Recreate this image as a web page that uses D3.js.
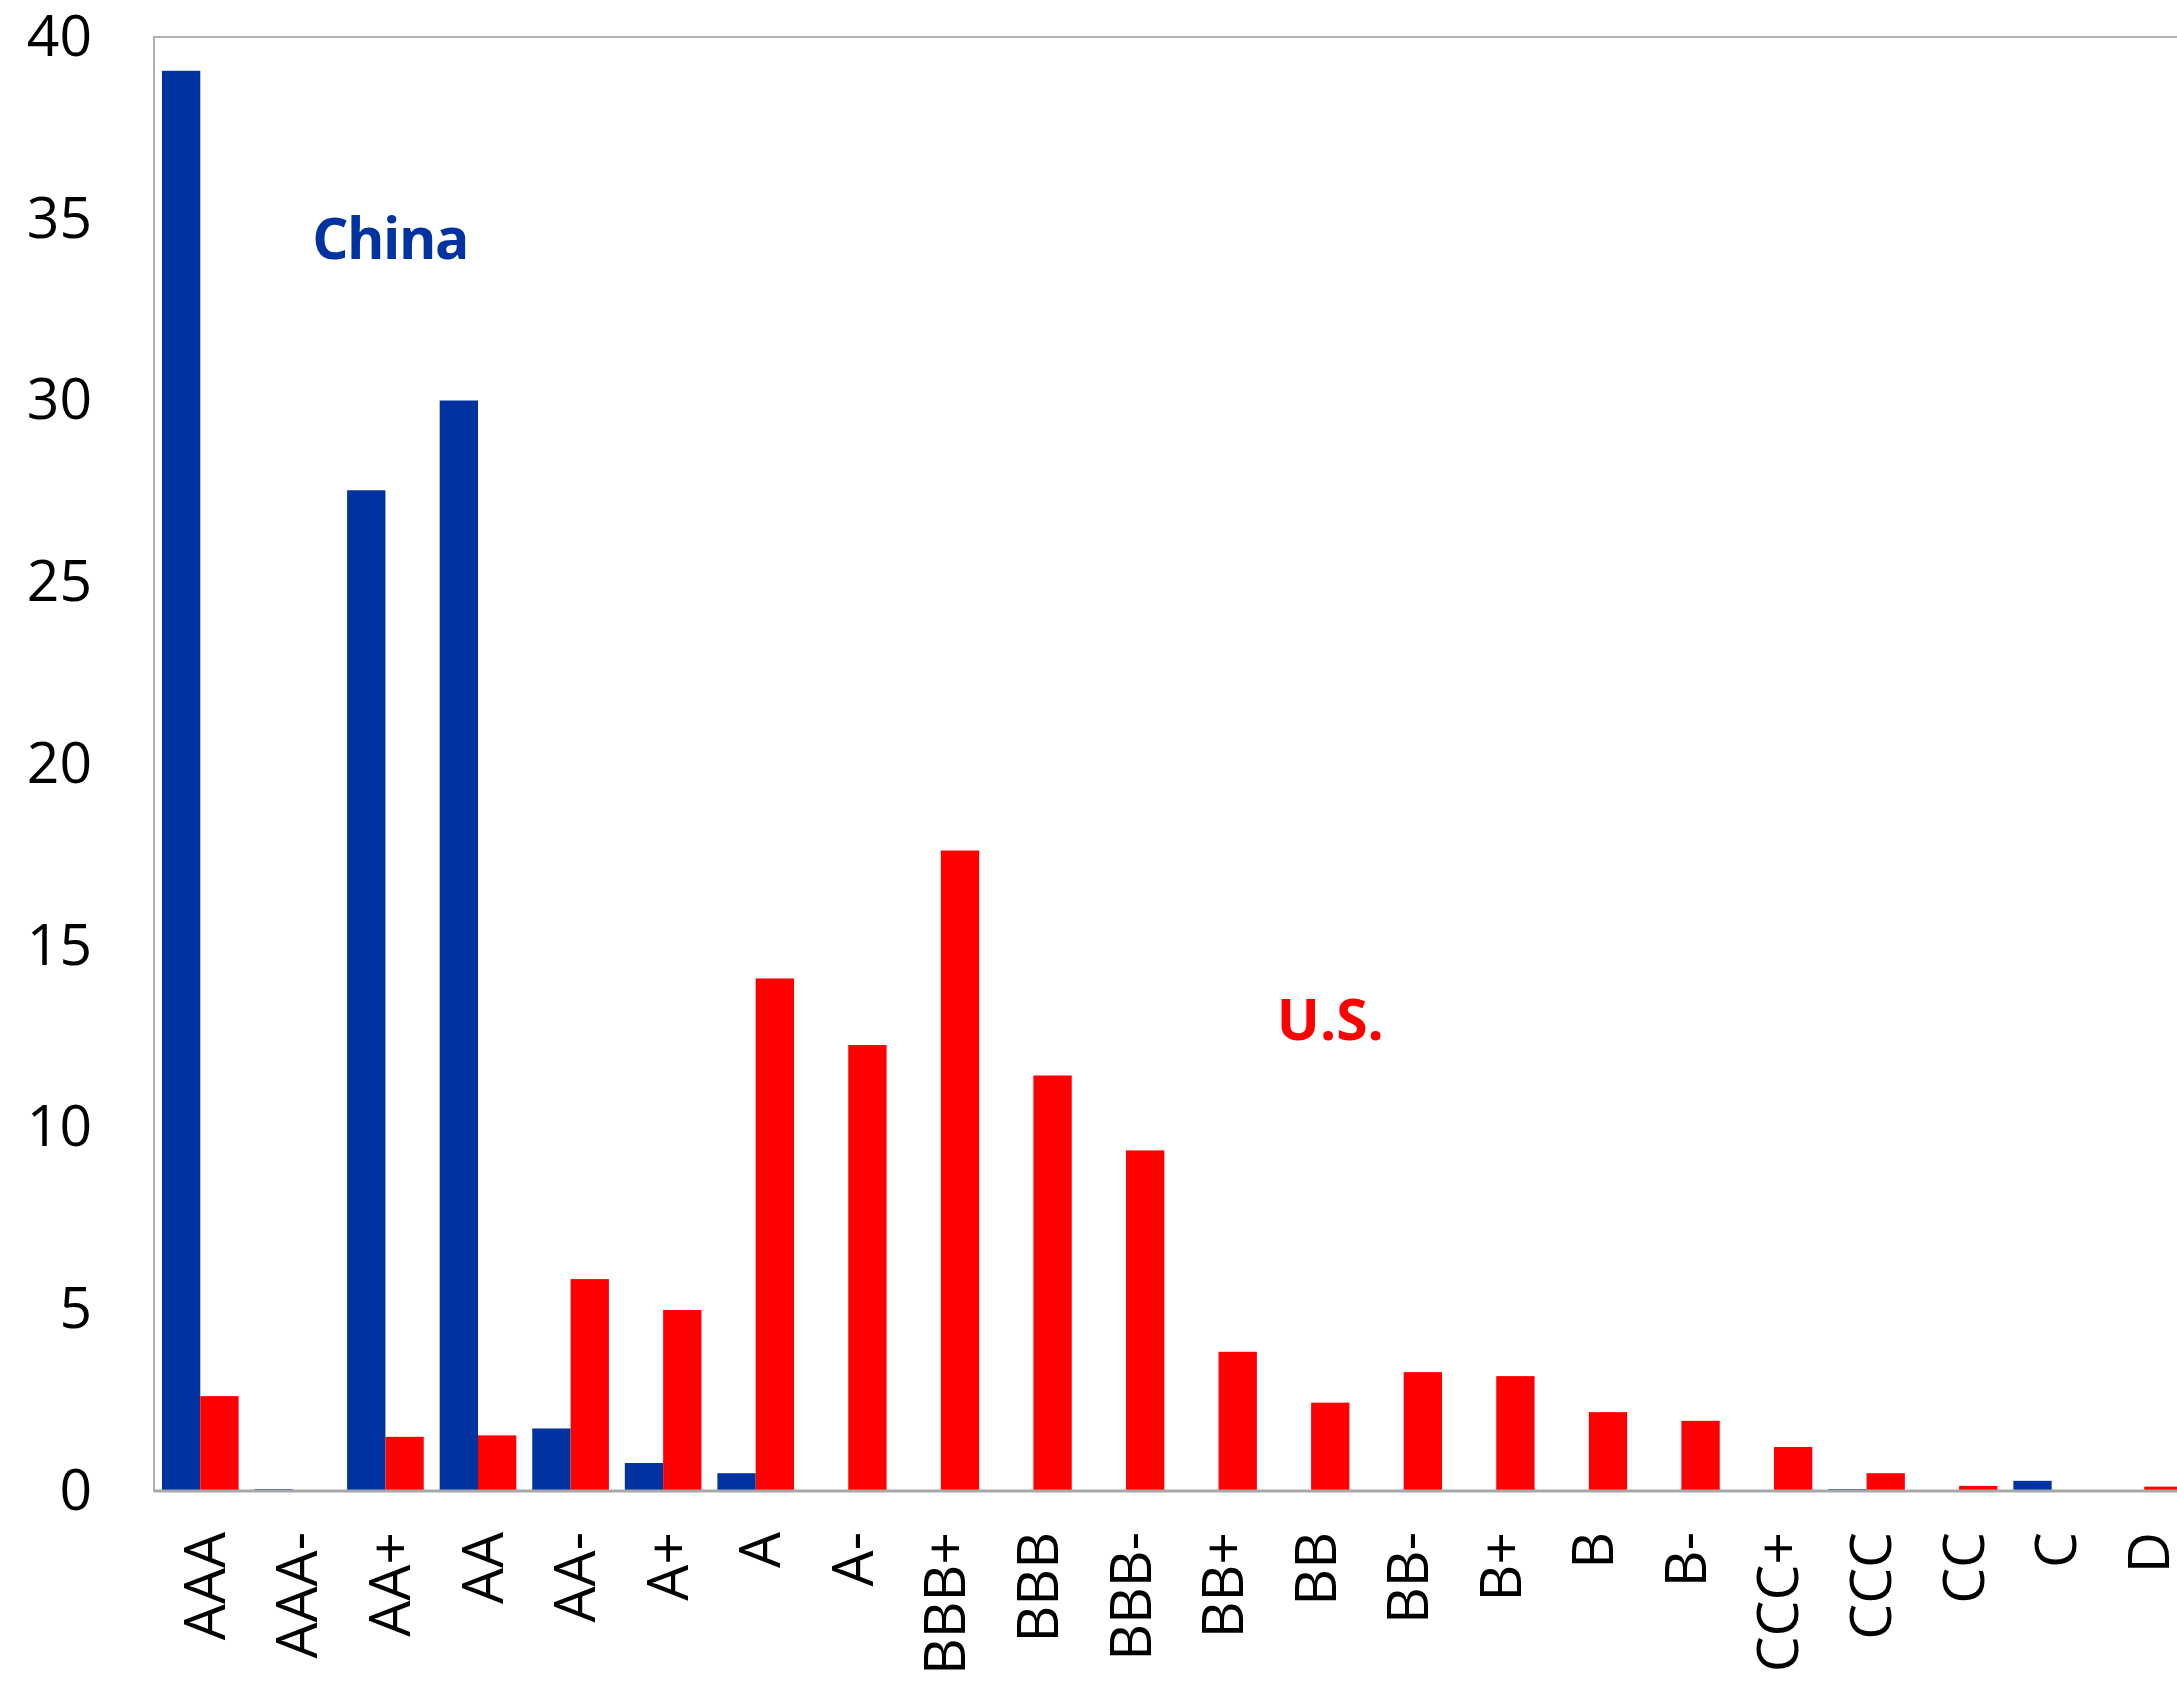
<!DOCTYPE html>
<html>
<head>
<meta charset="utf-8">
<script src="https://cdn.jsdelivr.net/npm/d3@7"></script>
<style>
  html, body { margin: 0; padding: 0; background: #fff; }
  svg { display: block; }
  text { font-family: "Open Sans", "Noto Sans", sans-serif; }
</style>
</head>
<body>
<svg id="chart" width="2177" height="1682"></svg>
<script>
// ---- data ----
const categories = ["AAA","AAA-","AA+","AA","AA-","A+","A","A-","BBB+","BBB","BBB-",
                    "BB+","BB","BB-","B+","B","B-","CCC+","CCC","CC","C","D"];
const chinaValues = [39.07, 0.05, 27.53, 30.0, 1.72, 0.77, 0.49, 0, 0, 0, 0,
                     0, 0, 0, 0, 0, 0, 0, 0.05, 0, 0.28, 0];
const usValues    = [2.61, 0, 1.49, 1.53, 5.83, 4.98, 14.10, 12.27, 17.62, 11.43, 9.37,
                     3.83, 2.43, 3.27, 3.16, 2.17, 1.93, 1.21, 0.49, 0.14, 0, 0.12];
const seriesNames = ["China", "U.S."];
const yTicks = [0, 5, 10, 15, 20, 25, 30, 35, 40];

// ---- layout ----
const svg = d3.select("#chart");
const mLeft = 154, mTop = 37, mBottom = 1491;
const step = 92.57;
const mRight = mLeft + categories.length * step;
const colors = { "China": "#0033a0", "U.S.": "#ff0000" };

const x = d3.scaleBand().domain(categories).range([mLeft, mRight]).padding(0);
const xs = d3.scaleBand().domain(seriesNames).range([0, x.bandwidth()])
  .paddingInner(0).paddingOuter(0.208);
const y = d3.scaleLinear().domain([0, 40]).range([mBottom, mTop]);

const rows = categories.map((c, i) => ({ cat: c, vals: [
  { s: "China", v: chinaValues[i] }, { s: "U.S.", v: usValues[i] } ] }));

// frame
svg.append("rect")
  .attr("x", mLeft).attr("y", mTop)
  .attr("width", mRight - mLeft).attr("height", mBottom - mTop)
  .attr("fill", "none").attr("stroke", "#b0b0b0").attr("stroke-width", 2);

// bars
const g = svg.append("g");
g.selectAll("g.cat").data(rows).join("g")
  .attr("class", "cat")
  .attr("transform", d => `translate(${x(d.cat)},0)`)
  .selectAll("rect").data(d => d.vals.filter(v => v.v > 0)).join("rect")
  .attr("x", d => xs(d.s))
  .attr("width", xs.bandwidth())
  .attr("y", d => y(d.v))
  .attr("height", d => y(0) - y(d.v))
  .attr("fill", d => colors[d.s]);

// x axis line
svg.append("line")
  .attr("x1", mLeft).attr("x2", mRight)
  .attr("y1", mBottom).attr("y2", mBottom)
  .attr("stroke", "#a8a8a8").attr("stroke-width", 3);

// y tick labels
const yAxis = d3.axisLeft(y).tickValues(yTicks).tickSize(0).tickPadding(62);
const ya = svg.append("g").attr("transform", `translate(${mLeft},0)`).call(yAxis);
ya.select(".domain").remove();
ya.selectAll("text")
  .attr("font-size", 57).attr("fill", "#000")
  .attr("font-family", "'Open Sans', sans-serif");

// x tick labels (rotated)
const xAxis = d3.axisBottom(x).tickSize(0).tickPadding(0);
const xa = svg.append("g").attr("transform", `translate(0,${mBottom})`).call(xAxis);
xa.select(".domain").remove();
xa.selectAll("text")
  .attr("font-size", 57).attr("fill", "#000")
  .attr("font-family", "'Open Sans', sans-serif")
  .attr("text-anchor", "end")
  .attr("transform", "translate(0,41) rotate(-90)")
  .attr("x", 0).attr("y", 0).attr("dy", "0.43em");

// series annotations
svg.append("text")
  .attr("x", x("AAA-") + 0.71 * step).attr("y", y(33.9))
  .attr("font-size", 57).attr("font-weight", "bold")
  .attr("letter-spacing", -1.5)
  .attr("fill", colors["China"]).text("China");
svg.append("text")
  .attr("x", x("BB+") + 1.13 * step).attr("y", y(12.4))
  .attr("font-size", 57).attr("font-weight", "bold")
  .attr("fill", colors["U.S."]).text("U.S.");
</script>
</body>
</html>
